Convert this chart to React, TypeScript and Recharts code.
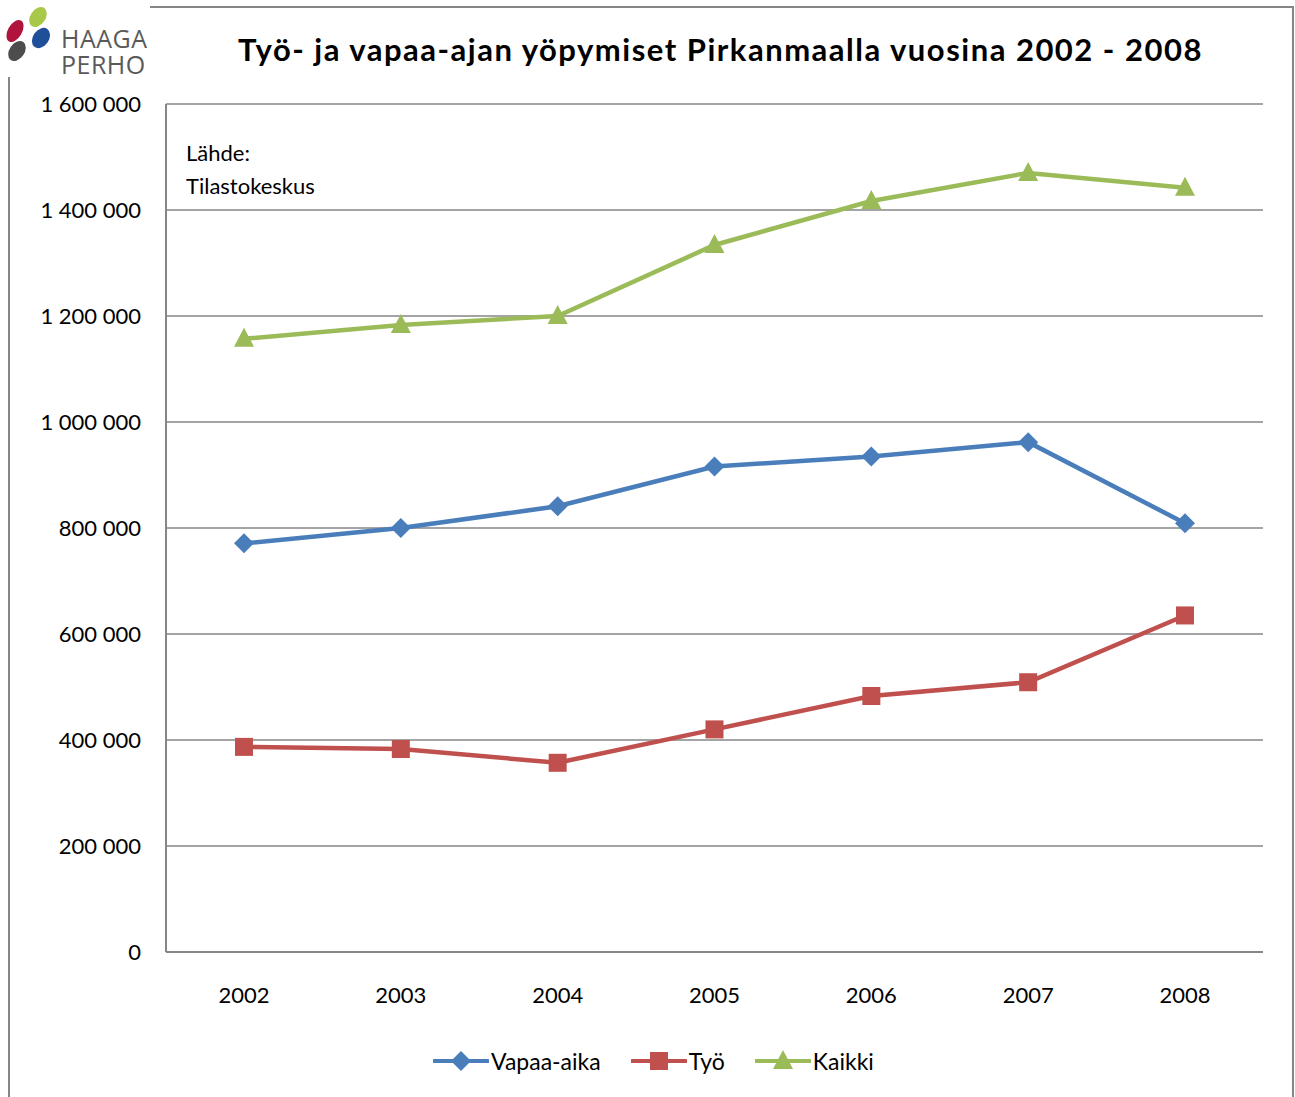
import { LineChart, Line, XAxis, YAxis, CartesianGrid } from "recharts";

const years = ["2002", "2003", "2004", "2005", "2006", "2007", "2008"];
const vapaaAika = [771000, 800000, 841000, 916000, 935000, 962000, 809000];
const tyo = [387000, 383000, 357000, 420000, 483000, 509000, 635000];
const kaikki = [1157000, 1183000, 1200000, 1334000, 1417000, 1470000, 1442000];
const yTicks = [0, 200000, 400000, 600000, 800000, 1000000, 1200000, 1400000, 1600000];

const FONT = "Lato, 'Open Sans', sans-serif";
const GRID = "#868686";

const series = [
  { key: "vapaa", name: "Vapaa-aika", color: "#4a7ebb", marker: "diamond" },
  { key: "tyo", name: "Työ", color: "#c0504d", marker: "square" },
  { key: "kaikki", name: "Kaikki", color: "#9bbb59", marker: "triangle" },
];

const data = years.map((y, i) => ({
  year: y,
  vapaa: vapaaAika[i],
  tyo: tyo[i],
  kaikki: kaikki[i],
}));

const fmt = (v: number) => String(v).replace(/\B(?=(\d{3})+(?!\d))/g, " ");

function Marker({ cx, cy, type, color }: { cx: number; cy: number; type: string; color: string }) {
  if (cx == null || cy == null) return null;
  if (type === "diamond") {
    const r = 10;
    return <polygon points={`${cx},${cy - r} ${cx + r},${cy} ${cx},${cy + r} ${cx - r},${cy}`} fill={color} />;
  }
  if (type === "square") {
    return <rect x={cx - 9} y={cy - 9} width={18} height={18} fill={color} />;
  }
  return <polygon points={`${cx},${cy - 11} ${cx + 10},${cy + 8} ${cx - 10},${cy + 8}`} fill={color} />;
}

function Logo() {
  const txt = {
    position: "absolute" as const,
    left: 61,
    fontFamily: "'Open Sans', sans-serif",
    fontSize: 25,
    lineHeight: "25px",
    color: "#5a5a5a",
    letterSpacing: 0.5,
  };
  return (
    <div style={{ position: "absolute", left: 0, top: 0, width: 150, height: 77, background: "#fff" }}>
      <svg width={60} height={77} style={{ position: "absolute", left: 0, top: 0 }}>
        <ellipse cx={15} cy={31} rx={7} ry={12} transform="rotate(30 15 31)" fill="#b0143c" />
        <ellipse cx={38} cy={17} rx={7.5} ry={11} transform="rotate(35 38 17)" fill="#a8c84a" />
        <ellipse cx={41} cy={38} rx={8} ry={11} transform="rotate(35 41 38)" fill="#1f4f98" />
        <ellipse cx={17} cy={51} rx={7.5} ry={11} transform="rotate(35 17 51)" fill="#4d4d4d" />
      </svg>
      <div style={{ ...txt, top: 26 }}>HAAGA</div>
      <div style={{ ...txt, top: 52 }}>PERHO</div>
    </div>
  );
}

function LegendRow() {
  return (
    <div
      style={{
        position: "absolute",
        top: 1046,
        left: 433,
        display: "flex",
        alignItems: "center",
        fontFamily: FONT,
        fontSize: 23,
        color: "#000",
      }}
    >
      {series.map((s, i) => (
        <div key={s.key} style={{ display: "flex", alignItems: "center", marginRight: i < 2 ? 30 : 0 }}>
          <svg width={56} height={30}>
            <line x1={1} y1={15} x2={55} y2={15} stroke={s.color} strokeWidth={4} strokeLinecap="round" />
            <Marker cx={28} cy={15} type={s.marker} color={s.color} />
          </svg>
          <span style={{ marginLeft: 2 }}>{s.name}</span>
        </div>
      ))}
    </div>
  );
}

export default function App() {
  return (
    <div style={{ position: "absolute", left: 0, top: 0, width: 1295, height: 1097, background: "#fff", overflow: "hidden" }}>
      <div
        style={{
          position: "absolute",
          left: 8,
          top: 6,
          width: 1282,
          height: 1200,
          borderLeft: `2px solid ${GRID}`,
          borderTop: `2px solid ${GRID}`,
          borderRight: `2px solid ${GRID}`,
        }}
      />
      <Logo />
      <div
        style={{
          position: "absolute",
          left: 0,
          width: 1441,
          top: 30,
          textAlign: "center",
          fontFamily: FONT,
          fontWeight: 700,
          fontSize: 31,
          letterSpacing: 1.5,
          color: "#000",
        }}
      >
        Työ- ja vapaa-ajan yöpymiset Pirkanmaalla vuosina 2002 - 2008
      </div>
      <div
        style={{
          position: "absolute",
          left: 186,
          top: 136,
          fontFamily: FONT,
          fontSize: 22,
          lineHeight: "33px",
          color: "#000",
        }}
      >
        Lähde:
        <br />
        Tilastokeskus
      </div>
      <div style={{ position: "absolute", left: 0, top: 0 }}>
        <LineChart width={1295} height={1097} data={data} margin={{ top: 104, right: 32, left: 0, bottom: 85 }}>
          <CartesianGrid vertical={false} stroke={GRID} strokeWidth={1.5} />
          <XAxis
            dataKey="year"
            padding={{ left: 78, right: 78 }}
            axisLine={{ stroke: GRID, strokeWidth: 2 }}
            tickLine={false}
            tickSize={0}
            tickMargin={35}
            height={60}
            tick={{ fontFamily: FONT, fontSize: 22, fill: "#000" }}
          />
          <YAxis
            width={166}
            domain={[0, 1600000]}
            ticks={yTicks}
            tickFormatter={fmt}
            axisLine={{ stroke: GRID, strokeWidth: 2 }}
            tickLine={false}
            tickSize={0}
            tickMargin={25}
            tick={{ fontFamily: FONT, fontSize: 22, fill: "#000" }}
          />
          {series.map(s => (
            <Line
              key={s.key}
              dataKey={s.key}
              name={s.name}
              stroke={s.color}
              strokeWidth={4.5}
              isAnimationActive={false}
              dot={(p: any) => <Marker key={`${s.key}-${p.index}`} cx={p.cx} cy={p.cy} type={s.marker} color={s.color} />}
              activeDot={false}
            />
          ))}
        </LineChart>
      </div>
      <LegendRow />
    </div>
  );
}
